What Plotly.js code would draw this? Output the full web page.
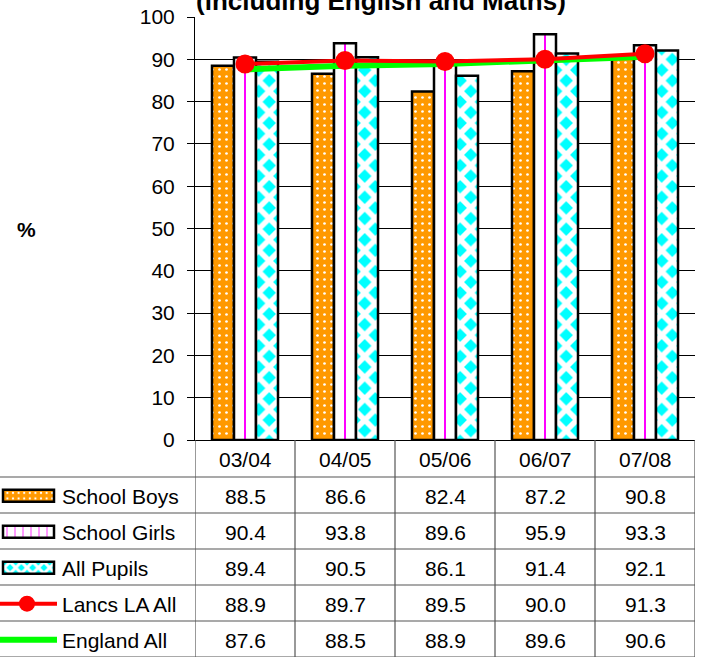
<!DOCTYPE html>
<html>
<head>
<meta charset="utf-8">
<script src="https://cdn.plot.ly/plotly-3.0.1.min.js"></script>
<style>html,body{margin:0;padding:0;background:#fff;}#chart{width:702px;height:657px;}</style>
</head>
<body>
<div id="chart"></div>
<script>
// ---- data ----
const categories = ["03/04", "04/05", "05/06", "06/07", "07/08"];
const seriesNames = ["School Boys", "School Girls", "All Pupils", "Lancs LA All", "England All"];
const schoolBoys  = [88.5, 86.6, 82.4, 87.2, 90.8];
const schoolGirls = [90.4, 93.8, 89.6, 95.9, 93.3];
const allPupils   = [89.4, 90.5, 86.1, 91.4, 92.1];
const lancsAll    = [88.9, 89.7, 89.5, 90.0, 91.3];
const englandAll  = [87.6, 88.5, 88.9, 89.6, 90.6];
const yTicks = [0, 10, 20, 30, 40, 50, 60, 70, 80, 90, 100];
const titleText = "(including English and Maths)";

// ---- geometry ----
const W = 702, H = 657;
const PL = 195, PR = 695, PT = 17, PB = 440;
const px2x = p => (p - PL) / (PR - PL);
const py2y = p => (PB - p) / (PB - PT);
const headerTop = PB, headerBottom = 477, rowH = 36;
const rowCenter = r => headerBottom + rowH * r + rowH / 2;
const FONT = "Liberation Sans, Arial, sans-serif";
const FS = 21;
const lineGray = "#555";

const allSeries = [schoolBoys, schoolGirls, allPupils, lancsAll, englandAll];

const traces = [
  { type: "bar", name: seriesNames[0], x: categories, y: schoolBoys, legend: "legend",
    marker: { color: "#FF9900", line: { color: "#000", width: 2.5 },
      pattern: { shape: ".", fillmode: "replace", bgcolor: "#FF9900", fgcolor: "#FFFFFF", size: 7, solidity: 0.12 } } },
  { type: "bar", name: seriesNames[1], x: categories, y: schoolGirls, legend: "legend2",
    marker: { color: "#FFFFFF", line: { color: "#000", width: 2.5 },
      pattern: { shape: "|", fillmode: "replace", bgcolor: "#FFFFFF", fgcolor: "#FF00FF", size: 20, solidity: 0.1 } } },
  { type: "bar", name: seriesNames[2], x: categories, y: allPupils, legend: "legend3",
    marker: { color: "#00FFFF", line: { color: "#000", width: 2.5 },
      pattern: { shape: "x", fillmode: "replace", bgcolor: "#00FFFF", fgcolor: "#FFFFFF", size: 15, solidity: 0.6 } } },
  { type: "scatter", mode: "lines", name: seriesNames[4], x: categories, y: englandAll, legend: "legend5",
    line: { color: "#00FF00", width: 6 } },
  { type: "scatter", mode: "lines+markers", name: seriesNames[3], x: categories, y: lancsAll, legend: "legend4",
    line: { color: "#FF0000", width: 4 }, marker: { color: "#FF0000", size: 19 } }
];

const shapes = [];
const annotations = [];
// horizontal table lines
for (let r = 0; r <= 5; r++) {
  const y = py2y(headerBottom + rowH * r);
  shapes.push({ type: "line", xref: "paper", yref: "paper", x0: px2x(0), x1: 1, y0: y, y1: y,
    line: { color: lineGray, width: 1.2 } });
}
// vertical table lines at category boundaries
for (let i = 0; i <= categories.length; i++) {
  shapes.push({ type: "line", xref: "x", yref: "paper", x0: i - 0.5, x1: i - 0.5,
    y0: py2y(H), y1: py2y(headerTop), line: { color: lineGray, width: 1.2 } });
}
const cellFont = { size: FS, color: "#000", family: FONT };
// header labels
categories.forEach((c, i) => annotations.push({ text: c, x: c, xref: "x", xanchor: "center",
  y: py2y((headerTop + headerBottom) / 2 + 1), yref: "paper", yanchor: "middle", showarrow: false, font: cellFont }));
// values
allSeries.forEach((s, r) => s.forEach((v, i) => annotations.push({ text: v.toFixed(1), x: categories[i], xref: "x",
  xanchor: "center", y: py2y(rowCenter(r) + 1), yref: "paper", yanchor: "middle", showarrow: false, font: cellFont })));
// % label
annotations.push({ text: "<b>%</b>", x: px2x(26), xref: "paper", xanchor: "center", y: py2y(230), yref: "paper",
  yanchor: "middle", showarrow: false, font: { size: FS, color: "#000", family: FONT } });

const legendBase = r => ({ x: px2x(-8), xanchor: "left", y: py2y(rowCenter(r) + 1), yanchor: "middle",
  bgcolor: "rgba(0,0,0,0)", borderwidth: 0, itemwidth: 60, font: { size: FS, color: "#000", family: FONT },
  itemclick: false, itemdoubleclick: false });

const layout = {
  width: W, height: H,
  margin: { l: PL, r: W - PR, t: PT, b: H - PB, pad: 0, autoexpand: false },
  paper_bgcolor: "#fff", plot_bgcolor: "#fff",
  font: { family: FONT, size: FS, color: "#000" },
  title: { text: "<b>" + titleText + "</b>", x: 381 / W, xanchor: "center", xref: "container",
    y: 1 - 1 / H, yanchor: "middle", yref: "container", font: { size: 26, color: "#000", family: FONT } },
  barmode: "group", bargap: 0.34, bargroupgap: 0,
  showlegend: true,
  legend: legendBase(0), legend2: legendBase(1), legend3: legendBase(2), legend4: legendBase(3), legend5: legendBase(4),
  xaxis: { type: "category", range: [-0.5, 4.5], showticklabels: false, ticks: "", showgrid: false,
    showline: true, linecolor: "#000", linewidth: 1, zeroline: false, fixedrange: true },
  yaxis: { range: [0, 100], tickvals: yTicks, ticktext: yTicks.map(String), ticks: "outside", ticklen: 7,
    tickcolor: "#000", showline: true, linecolor: "#000", linewidth: 1, showgrid: true, gridcolor: "#000",
    gridwidth: 1, zeroline: false, ticklabelstandoff: 8, tickfont: { size: FS, family: FONT, color: "#000" },
    fixedrange: true },
  shapes: shapes,
  annotations: annotations
};

function widenBarKeys(gd) {
  gd.querySelectorAll("g.legendpoints path").forEach(p => {
    const d = (p.getAttribute("d") || "").replace(/\s+/g, "");
    if (/^M6,6H-6V-6H6Z$/i.test(d) || (p.classList && p.classList.contains("legendbar"))) {
      p.setAttribute("d", "M27,6H-24V-6H27Z");
    }
  });
}

Plotly.newPlot("chart", traces, layout, { displayModeBar: false, staticPlot: true }).then(gd => {
  widenBarKeys(gd);
  gd.on && gd.on("plotly_afterplot", () => widenBarKeys(gd));
});
</script>
</body>
</html>
